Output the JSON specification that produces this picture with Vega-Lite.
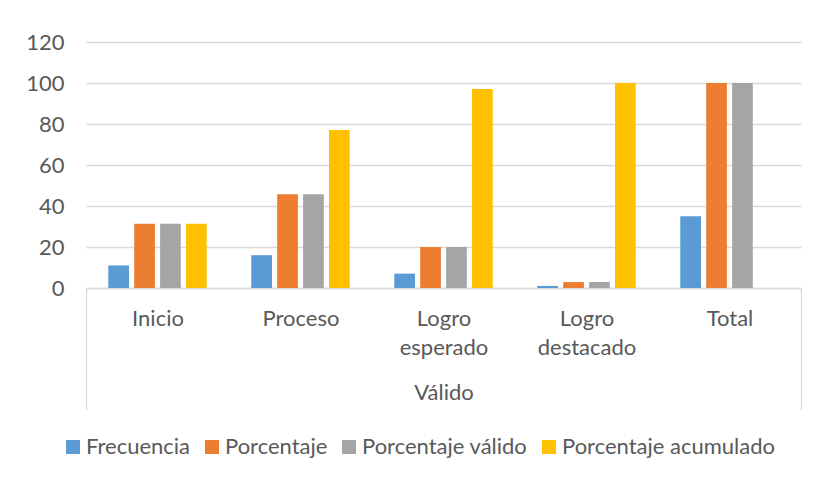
{
  "$schema": "https://vega.github.io/schema/vega-lite/v6.json",
  "width": 715,
  "height": 246,
  "autosize": {"type": "none"},
  "padding": {"left": 86, "top": 42, "right": 21, "bottom": 190},
  "background": "white",
  "config": {"view": {"stroke": null}, "font": "Lato"},
  "data": {
    "values": [
      {"categoria": "Inicio", "serie": "Frecuencia", "valor": 11},
      {"categoria": "Inicio", "serie": "Porcentaje", "valor": 31.4},
      {"categoria": "Inicio", "serie": "Porcentaje válido", "valor": 31.4},
      {"categoria": "Inicio", "serie": "Porcentaje acumulado", "valor": 31.4},
      {"categoria": "Proceso", "serie": "Frecuencia", "valor": 16},
      {"categoria": "Proceso", "serie": "Porcentaje", "valor": 45.7},
      {"categoria": "Proceso", "serie": "Porcentaje válido", "valor": 45.7},
      {"categoria": "Proceso", "serie": "Porcentaje acumulado", "valor": 77.1},
      {"categoria": "Logro esperado", "serie": "Frecuencia", "valor": 7},
      {"categoria": "Logro esperado", "serie": "Porcentaje", "valor": 20},
      {"categoria": "Logro esperado", "serie": "Porcentaje válido", "valor": 20},
      {"categoria": "Logro esperado", "serie": "Porcentaje acumulado", "valor": 97.1},
      {"categoria": "Logro destacado", "serie": "Frecuencia", "valor": 1},
      {"categoria": "Logro destacado", "serie": "Porcentaje", "valor": 2.9},
      {"categoria": "Logro destacado", "serie": "Porcentaje válido", "valor": 2.9},
      {"categoria": "Logro destacado", "serie": "Porcentaje acumulado", "valor": 100},
      {"categoria": "Total", "serie": "Frecuencia", "valor": 35},
      {"categoria": "Total", "serie": "Porcentaje", "valor": 100},
      {"categoria": "Total", "serie": "Porcentaje válido", "valor": 100}
    ]
  },
  "mark": {"type": "bar"},
  "encoding": {
    "x": {
      "field": "categoria",
      "type": "nominal",
      "sort": ["Inicio", "Proceso", "Logro esperado", "Logro destacado", "Total"],
      "scale": {"paddingInner": 0, "paddingOuter": 0},
      "axis": {
        "title": "Válido",
        "titleFontSize": 22,
        "titleFontWeight": "normal",
        "titleColor": "#595959",
        "titleY": 94,
        "titleBaseline": "top",
        "domainColor": "#d9d9d9",
        "domainWidth": 1.3,
        "tickBand": "extent",
        "tickSize": 122,
        "tickWidth": 1.3,
        "tickColor": {"condition": {"test": "datum.index >= 1 || datum.index < 0", "value": "#d9d9d9"}, "value": "transparent"},
        "labelFontSize": 22,
        "labelColor": "#595959",
        "labelPadding": -102,
        "labelLineHeight": 29,
        "labelAngle": 0,
        "labelBaseline": "top",
        "labelOverlap": false,
        "labelExpr": "split(datum.label, ' ')"
      }
    },
    "xOffset": {
      "field": "serie",
      "type": "nominal",
      "sort": ["Frecuencia", "Porcentaje", "Porcentaje válido", "Porcentaje acumulado"],
      "scale": {"domain": ["Frecuencia", "Porcentaje", "Porcentaje válido", "Porcentaje acumulado"], "paddingInner": 0.2, "paddingOuter": 0.86}
    },
    "y": {
      "field": "valor",
      "type": "quantitative",
      "scale": {"domain": [0, 120]},
      "axis": {
        "title": null,
        "domain": false,
        "ticks": false,
        "values": [0, 20, 40, 60, 80, 100, 120],
        "labelFontSize": 22,
        "labelColor": "#595959",
        "labelPadding": 22,
        "gridColor": "#d9d9d9",
        "gridWidth": 1.3
      }
    },
    "color": {
      "field": "serie",
      "type": "nominal",
      "scale": {
        "domain": ["Frecuencia", "Porcentaje", "Porcentaje válido", "Porcentaje acumulado"],
        "range": ["#5B9BD5", "#ED7D31", "#A5A5A5", "#FFC000"]
      },
      "legend": {
        "orient": "none",
        "legendX": -24,
        "legendY": 394,
        "direction": "horizontal",
        "title": null,
        "symbolType": "square",
        "symbolSize": 196,
        "symbolStrokeWidth": 0,
        "labelFontSize": 22,
        "labelColor": "#595959",
        "labelLimit": 400,
        "columnPadding": 10,
        "labelOffset": 2,
        "padding": 0
      }
    }
  }
}
